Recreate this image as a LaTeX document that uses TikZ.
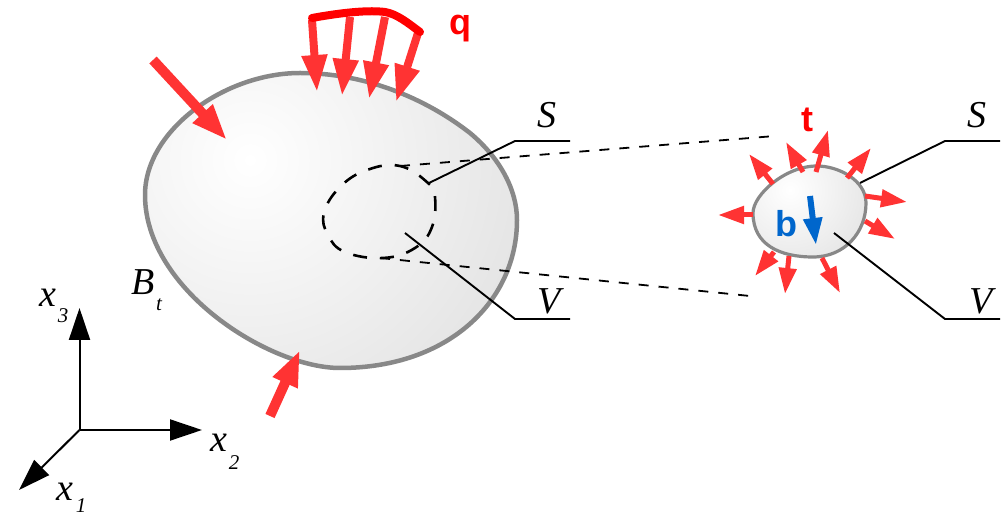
\documentclass[tikz,border=0pt]{standalone}
\usepackage{fontspec}
\setmainfont{Liberation Serif}
\newfontfamily\labelsans{Liberation Sans}
\usetikzlibrary{arrows.meta}
\definecolor{loadred}{RGB}{255,51,51}
\definecolor{pure}{RGB}{255,0,0}
\definecolor{bodyblue}{RGB}{0,102,204}
\definecolor{edgegray}{RGB}{136,136,136}
\pgfdeclareradialshading{bodyshade}{\pgfpoint{0bp}{0bp}}{color(0bp)=(white); color(25bp)=(black!19); color(50bp)=(black!19)}
\tikzset{
  bigarrow/.style={loadred,line width=10pt,-{Triangle[width=25pt,length=36pt]}},
  qarrow/.style={loadred,line width=8pt,-{Triangle[width=24pt,length=37pt]}},
  tarrow/.style={loadred,line width=5pt,-{Triangle[width=17pt,length=26pt]}},
  barrow/.style={bodyblue,line width=6pt,-{Triangle[width=18pt,length=27pt]}},
  axisarrow/.style={black,line width=2pt,-{Triangle[width=21pt,length=32pt]}},
  leader/.style={black,line width=1.9pt},
  thindash/.style={black,line width=1.8pt,dash pattern=on 10pt off 10pt},
  outline/.style={edgegray,line join=round},
  mathlabel/.style={font=\fontsize{38}{38}\selectfont\itshape,inner sep=0pt},
  sublabel/.style={font=\fontsize{21}{21}\selectfont\itshape,inner sep=0pt},
  boldlabel/.style={font=\fontsize{36}{36}\selectfont\labelsans\bfseries,inner sep=0pt}
}
\begin{document}
\begin{tikzpicture}[x=1pt,y=-1pt]
\useasboundingbox (0,0) rectangle (1004,518);
% main body
\def\bodypath{(145,195) .. controls (145,130) and (225,73) .. (300,73) .. controls (365,73) and (425,98) .. (470,133) .. controls (500,158) and (517,190) .. (517,220) .. controls (517,300) and (450,368) .. (340,368) .. controls (270,368) and (145,290) .. (145,195) -- cycle}
\begin{scope}
  \clip \bodypath;
  \shade[shading=bodyshade] (250,160) circle (520);
\end{scope}
\draw[outline,line width=4.5pt] \bodypath;
% small body
\def\smallpath{(753,213) .. controls (753,195) and (785,166) .. (817,166) .. controls (838,166) and (866,180) .. (866,203) .. controls (866,232) and (845,257) .. (813,257) .. controls (780,257) and (753,245) .. (753,213) -- cycle}
\begin{scope}
  \clip \smallpath;
  \shade[shading=bodyshade] (790,190) circle (160);
\end{scope}
\draw[outline,line width=3.2pt] \smallpath;
% dashed inner volume
\draw[black,line width=2.6pt,dash pattern=on 14pt off 13pt] plot[smooth cycle,tension=0.7] coordinates {(428,183) (435,197) (432,227) (415,248) (383,258) (345,252) (328,235) (324,213) (340,187) (367,170) (400,166)};
% coordinates of connectors
\coordinate (dsa) at (400,166); \coordinate (dsb) at (775,136);
\coordinate (dva) at (380,258); \coordinate (dvb) at (750,296);
\draw[thindash] (dsa) -- (dsb);
\draw[thindash] (dva) -- (dvb);
\coordinate (ls1) at (429,183); \coordinate (ls2) at (515,141); \coordinate (ls3) at (570,141);
\coordinate (lv1) at (405,233); \coordinate (lv2) at (515,319); \coordinate (lv3) at (570,319);
\coordinate (rs1) at (860,183); \coordinate (rs2) at (945,141); \coordinate (rs3) at (1000,141);
\coordinate (rv1) at (834,233); \coordinate (rv2) at (945,319); \coordinate (rv3) at (1000,319);
\draw[leader] (ls1) -- (ls2) -- (ls3);
\draw[leader] (lv1) -- (lv2) -- (lv3);
\draw[leader] (rs1) -- (rs2) -- (rs3);
\draw[leader] (rv1) -- (rv2) -- (rv3);
% big loads
\coordinate (fa1) at (153,60); \coordinate (fa2) at (227,140);
\coordinate (fb1) at (270,416); \coordinate (fb2) at (300,350);
\draw[bigarrow] (fa1) -- (fa2);
\draw[bigarrow] (fb1) -- (fb2);
% distributed load
\foreach \ax/\ay/\bx/\by [count=\i] in {312/20/317/92,350/17/342/96,385/17/369/99,418/33/396/102}{
  \coordinate (qs\i) at (\ax,\ay); \coordinate (qe\i) at (\bx,\by);
  \draw[qarrow] (qs\i) -- (qe\i);
}
\draw[pure,line width=8pt,line cap=round,line join=round] (312,18) .. controls (345,12) and (370,10) .. (385,12) .. controls (397,14) and (408,23) .. (420,32);
% tractions
\foreach \ax/\ay/\bx/\by [count=\i] in {773/184/749/154,803/172/786/142,816/172/828/130,847/178/871/148,865/196/907/202,865/221/895/239,822/258/840/293,789/256/785/294,774/252/755/276,753/215/718/215}{
  \coordinate (ts\i) at (\ax,\ay); \coordinate (te\i) at (\bx,\by);
  \draw[tarrow] (ts\i) -- (te\i);
}
\coordinate (bs) at (810,196); \coordinate (be) at (816,245);
\draw[barrow] (bs) -- (be);
% axes
\coordinate (o) at (79.5,430); \coordinate (ax3) at (79.5,308); \coordinate (ax2) at (202,430); \coordinate (ax1) at (19,490);
\draw[axisarrow] (o) -- (ax3);
\draw[axisarrow] (o) -- (ax2);
\draw[axisarrow] (o) -- (ax1);
% labels
\node[mathlabel] (lS) at (547,115) {S};
\node[mathlabel] (lV) at (549,301) {V};
\node[mathlabel] (rS) at (977,115) {S};
\node[mathlabel] (rV) at (981,301) {V};
\node[mathlabel] (lB) at (143,282) {B};
\node[sublabel] (lBt) at (159,305) {t};
\node[mathlabel] (lx3) at (48,298) {x};
\node[sublabel] (lx3s) at (63,316) {3};
\node[mathlabel] (lx2) at (219,443) {x};
\node[sublabel] (lx2s) at (234,463) {2};
\node[mathlabel] (lx1) at (65,492) {x};
\node[sublabel] (lx1s) at (81,506) {1};
\node[boldlabel,text=pure] (lq) at (460,29) {q};
\node[boldlabel,text=pure] (lt) at (807,120) {t};
\node[boldlabel,text=bodyblue] (lb) at (786,224) {b};
\end{tikzpicture}
\end{document}
